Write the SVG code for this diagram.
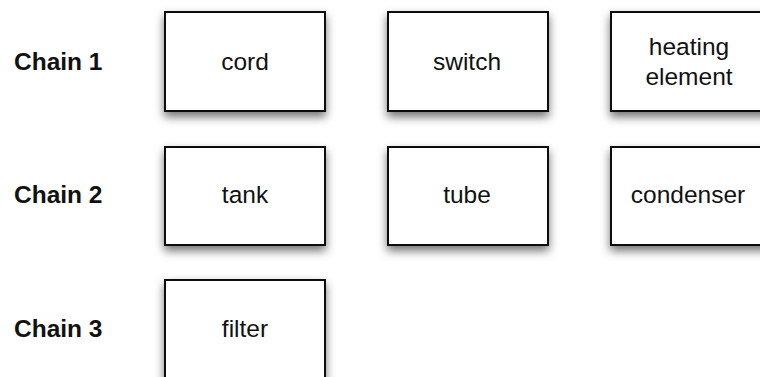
<svg xmlns="http://www.w3.org/2000/svg" width="760" height="377" viewBox="0 0 760 377">
<defs>
<filter id="sh" x="-20%" y="-20%" width="140%" height="150%">
<feDropShadow dx="0" dy="5" stdDeviation="5" flood-color="#000" flood-opacity="0.55"/>
</filter>
<style>
.box{fill:#fff;stroke:#111;stroke-width:2;filter:url(#sh)}
.lbl{font-family:"Liberation Sans",Arial,sans-serif;font-size:24.5px;fill:#111;text-anchor:middle}
.chain{font-family:"Liberation Sans",Arial,sans-serif;font-size:24.5px;font-weight:bold;fill:#111}
</style>
</defs>
<rect width="760" height="377" fill="#fff"/>
<g id="labels">
<text class="chain" x="14" y="70">Chain 1</text>
<text class="chain" x="14" y="203">Chain 2</text>
<text class="chain" x="14" y="337">Chain 3</text>
</g>
<g id="connectors"></g>
<g id="cord"><rect class="box" x="165" y="12" width="160" height="99"/><text class="lbl" x="245" y="70">cord</text></g>
<g id="switch"><rect class="box" x="388" y="12" width="160" height="99"/><text class="lbl" x="467" y="70">switch</text></g>
<g id="heating"><rect class="box" x="611" y="12" width="160" height="99"/><text class="lbl" x="689" y="55">heating</text><text class="lbl" x="689" y="85">element</text></g>
<g id="tank"><rect class="box" x="165" y="147" width="160" height="98"/><text class="lbl" x="245" y="203">tank</text></g>
<g id="tube"><rect class="box" x="388" y="147" width="160" height="98"/><text class="lbl" x="467" y="203">tube</text></g>
<g id="condenser"><rect class="box" x="611" y="147" width="160" height="98"/><text class="lbl" x="688" y="203">condenser</text></g>
<g id="filter"><rect class="box" x="165" y="280" width="160" height="99"/><text class="lbl" x="245" y="337">filter</text></g>
</svg>
